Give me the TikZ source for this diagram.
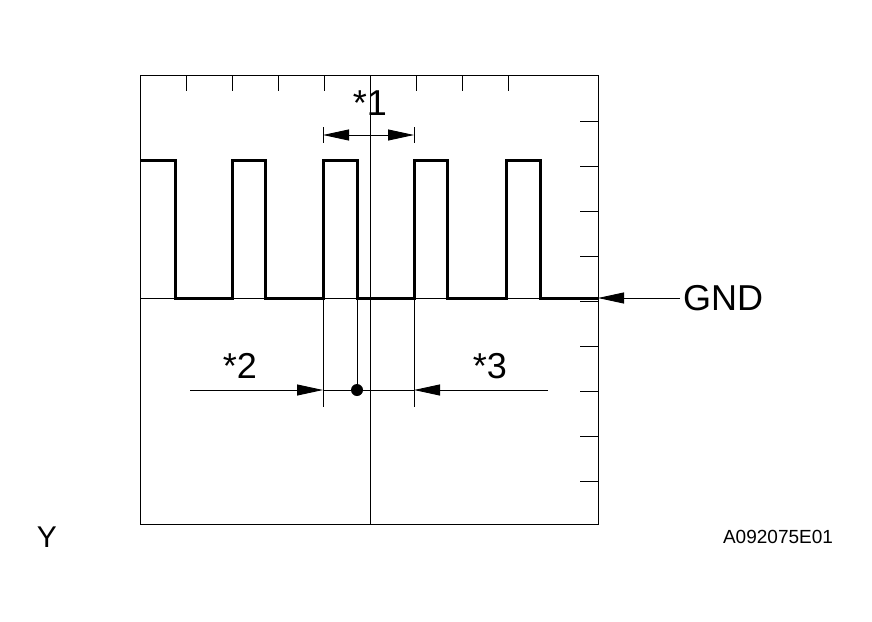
\documentclass[tikz,border=0pt]{standalone}
\usepackage{fontspec}
\setmainfont{Liberation Sans}
\usetikzlibrary{arrows.meta,positioning}
\begin{document}
\begin{tikzpicture}[x=1pt,y=-1pt,
    wave/.style={line width=3pt},
    thin/.style={line width=0.9pt},
    tip/.style={thin,-{Triangle[length=26pt,width=11pt]}},
    lbl/.style={font=\fontsize{36}{36}\selectfont,inner sep=0pt}]
  \useasboundingbox (0,0) rectangle (872,621);
  % screen frame and grid ticks
  \draw[thin] (140,75) rectangle (598,524);
  \foreach \x in {186,232,...,552} \draw[thin] (\x,75) -- (\x,91);
  \foreach \y in {121,166,...,481} \draw[thin] (580,\y) -- (598,\y);
  \draw[thin] (370,75) -- (370,524);
  \draw[thin] (140,298) -- (598,298);
  % signal
  \draw[wave] (140,160) -- (175,160) -- (175,298) -- (232,298) -- (232,160)
    -- (265,160) -- (265,298) -- (323,298) -- (323,160) -- (357,160)
    -- (357,298) -- (414,298) -- (414,160) -- (447,160) -- (447,298)
    -- (506,298) -- (506,160) -- (540,160) -- (540,298) -- (598,298);
  % *1
  \coordinate (p1) at (323,135);
  \coordinate (p2) at (414,135);
  \draw[thin] (323,127) -- (323,143) (414,127) -- (414,143);
  \draw[thin,{Triangle[length=26pt,width=11pt]}-{Triangle[length=26pt,width=11pt]}] (p1) -- (p2);
  \node[lbl] (s1) at (370,103) {*1};
  % *2 and *3
  \draw[thin] (323,298) -- (323,407) (414,298) -- (414,407) (357,298) -- (357,390);
  \coordinate (a2) at (190,390);
  \coordinate (b2) at (323,390);
  \coordinate (a3) at (548,390);
  \coordinate (b3) at (414,390);
  \draw[tip] (a2) -- (b2);
  \draw[tip] (a3) -- (b3);
  \draw[thin] (b2) -- (b3);
  \node[circle,fill,inner sep=0pt,minimum size=12pt] (dot) at (357,390) {};
  \node[lbl] (s2) at (240,366) {*2};
  \node[lbl] (s3) at (490,366) {*3};
  % GND
  \node[lbl,anchor=west] (gnd) at (683,298) {GND};
  \coordinate (g0) at (598,298);
  \draw[tip] (680,298) -- (g0);
  \node[lbl,font=\fontsize{30}{30}\selectfont] (y) at (47,537) {Y};
  \node[inner sep=0pt,font=\fontsize{19}{19}\selectfont] (code) at (778,537) {A092075E01};
\end{tikzpicture}
\end{document}
